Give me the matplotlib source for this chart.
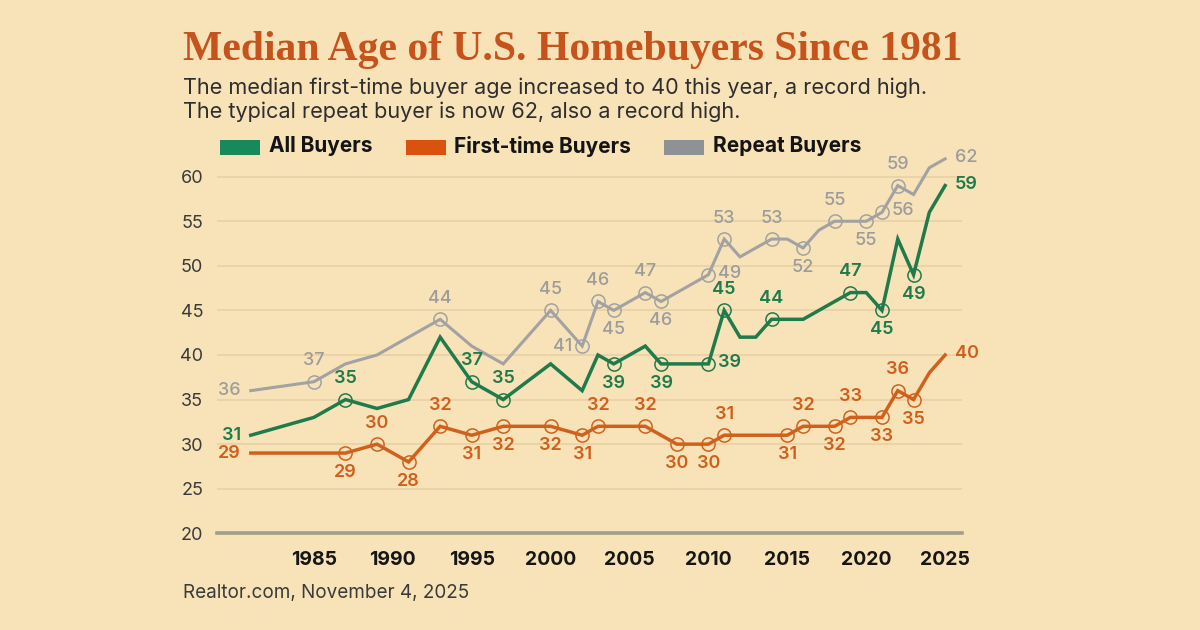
import matplotlib
matplotlib.use("Agg")
import matplotlib.pyplot as plt
from matplotlib.patches import Rectangle

# survey years (as placed on the chart) and median ages
years = [1981, 1985, 1987, 1989, 1991, 1993, 1995, 1997, 2000, 2002, 2003, 2004,
         2005, 2006, 2007, 2008, 2009, 2010, 2011, 2012, 2013, 2014, 2015, 2016,
         2017, 2018, 2019, 2020, 2021, 2022, 2023, 2024, 2025]

all_buyers = [31, 33, 35, 34, 35, 42, 37, 35, 39, 36, 40, 39,
              40, 41, 39, 39, 39, 39, 45, 42, 42, 44, 44, 44,
              45, 46, 47, 47, 45, 53, 49, 56, 59]
first_time = [29, 29, 29, 30, 28, 32, 31, 32, 32, 31, 32, 32,
              32, 32, 31, 30, 30, 30, 31, 31, 31, 31, 31, 32,
              32, 32, 33, 33, 33, 36, 35, 38, 40]
repeat = [36, 37, 39, 40, 42, 44, 41, 39, 45, 41, 46, 45,
          46, 47, 46, 47, 48, 49, 53, 51, 52, 53, 53, 52,
          54, 55, 55, 55, 56, 59, 58, 61, 62]

# labelled points: year -> where the label sits
all_labels = {1981: 'left', 1987: 'above', 1995: 'above', 1997: 'above', 2004: 'below',
              2007: 'below', 2010: 'right', 2011: 'above', 2014: 'above', 2019: 'above',
              2021: 'below', 2023: 'below', 2025: 'right'}
first_labels = {1981: 'left', 1987: 'below', 1989: 'above', 1991: 'below', 1993: 'above',
                1995: 'below', 1997: 'below', 2000: 'below', 2002: 'below', 2003: 'above',
                2006: 'above', 2008: 'below', 2010: 'below', 2011: 'above', 2015: 'below',
                2016: 'above', 2018: 'below', 2019: 'above', 2021: 'below', 2022: 'above',
                2023: 'below', 2025: 'right'}
repeat_labels = {1981: 'left', 1985: 'above', 1993: 'above', 2000: 'above', 2002: 'left',
                 2003: 'above', 2004: 'below', 2006: 'above', 2007: 'below', 2010: 'right',
                 2011: 'above', 2014: 'above', 2016: 'below', 2018: 'above', 2020: 'below',
                 2021: 'right', 2022: 'above', 2025: 'right'}

series_names = ['All Buyers', 'First-time Buyers', 'Repeat Buyers']
y_ticks = [20, 25, 30, 35, 40, 45, 50, 55, 60]
x_ticks = [1985, 1990, 1995, 2000, 2005, 2010, 2015, 2020, 2025]

bg = '#F8E3B8'
font = 'Inter'

fig = plt.figure(figsize=(12, 6.3), dpi=100, facecolor=bg)
ax = fig.add_axes([217 / 1200, 1 - 533.3 / 630, 745 / 1200, 392.3 / 630])
ax.set_facecolor(bg)
ax.set_xlim(1978.86, 2026.07)
ax.set_ylim(20, 64)

for s in ['top', 'right', 'left']:
    ax.spines[s].set_visible(False)
ax.spines['bottom'].set_color('#A39D8C')
ax.spines['bottom'].set_linewidth(2.6)
ax.set_yticks(y_ticks)
ax.set_yticklabels([str(v) for v in y_ticks], fontfamily=font, fontsize=13, color='#3a3a3a')
ax.set_xticks(x_ticks)
ax.set_xticklabels([str(v) for v in x_ticks], fontfamily=font, fontsize=14,
                   fontweight='bold', color='#161616')
ax.tick_params(axis='y', length=0, pad=10)
ax.tick_params(axis='x', length=0, pad=13)
for v in y_ticks[1:]:
    ax.axhline(v, color='#E6D0A3', lw=1.1, zorder=0)

series = [
    (all_buyers, all_labels, '#1F7B4B', '#1F7B4B', 'semibold', 2.5),
    (first_time, first_labels, '#D0611D', '#CF5F1C', 'semibold', 2.5),
    (repeat, repeat_labels, '#A2A2A2', '#9C9C9C', 'medium', 2.2),
]

offsets = {'above': ((0, 15), 'center', 'center'),
           'below': ((0, -14), 'center', 'center'),
           'left': ((-7, 0), 'right', 'center'),
           'right': ((7, 1), 'left', 'center')}

for vals, labels, lc, tc, fw, lw in series:
    ax.plot(years, vals, color=lc, lw=lw, solid_joinstyle='miter', zorder=3, clip_on=False)
    mx = [y for y in labels if y not in (years[0], years[-1])]
    my = [vals[years.index(y)] for y in mx]
    ax.plot(mx, my, 'o', ms=9.5, mfc='none', mec=lc, mew=1.1, zorder=4)
    for y, pos in labels.items():
        v = vals[years.index(y)]
        off, ha, va = offsets[pos]
        ax.annotate(str(v), (y, v), xytext=off, textcoords='offset points',
                    ha=ha, va=va, fontsize=13, fontfamily=font, fontweight=fw,
                    color=tc, zorder=5, annotation_clip=False)

# title block
fig.text(183 / 1200, 1 - 50 / 630, 'Median Age of U.S. Homebuyers Since 1981',
         fontfamily='Liberation Serif', fontweight='bold', fontsize=30,
         color='#C5531B', va='center', ha='left')
fig.text(183 / 1200, 1 - 88 / 630,
         'The median first-time buyer age increased to 40 this year, a record high.',
         fontfamily=font, fontsize=15.6, color='#2e2e2e', va='center', ha='left')
fig.text(183 / 1200, 1 - 112 / 630,
         'The typical repeat buyer is now 62, also a record high.',
         fontfamily=font, fontsize=15.6, color='#2e2e2e', va='center', ha='left')

# legend
legend_colors = ['#178A5C', '#D9530F', '#8E9196']
renderer = fig.canvas.get_renderer()
lx = 220
for name, c in zip(series_names, legend_colors):
    fig.add_artist(Rectangle((lx / 1200, 1 - 155 / 630), 40 / 1200, 15 / 630,
                             transform=fig.transFigure, facecolor=c, edgecolor='none'))
    t = fig.text((lx + 49) / 1200, 1 - 146 / 630, name, fontfamily=font, fontsize=15,
                 fontweight='bold', color='#141414', va='center', ha='left')
    w = t.get_window_extent(renderer).width
    lx = lx + 49 + w + 33

fig.text(183 / 1200, 1 - 593 / 630, 'Realtor.com, November 4, 2025',
         fontfamily=font, fontsize=13.6, color='#3a3a3a', va='center', ha='left')

fig.savefig('out.png', dpi=100, facecolor=bg)
